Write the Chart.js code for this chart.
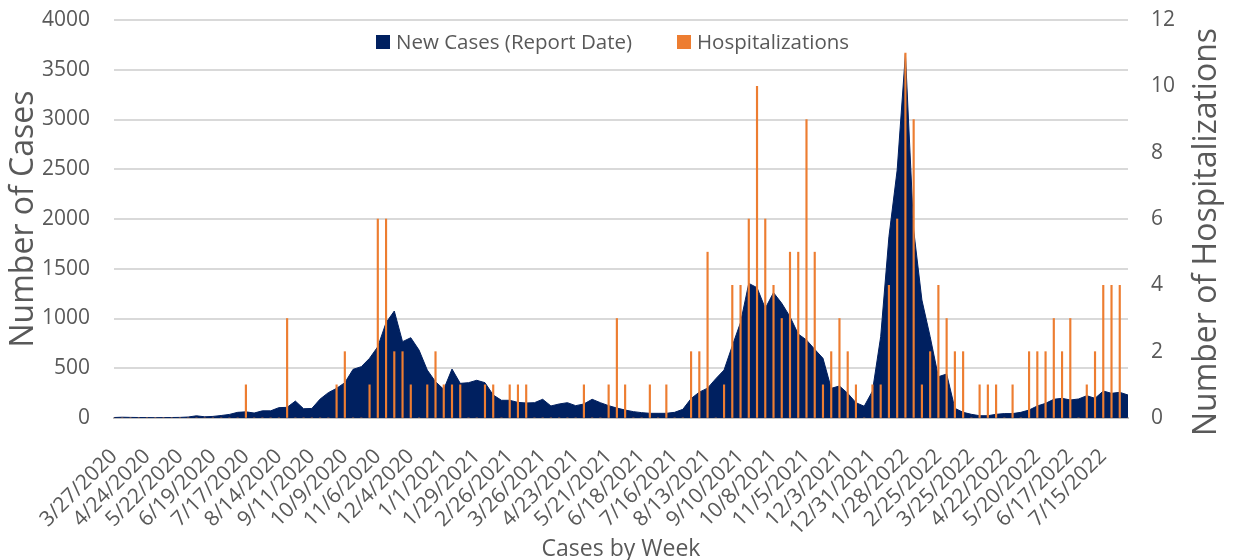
<!DOCTYPE html>
<html>
<head>
<meta charset="utf-8">
<script src="https://cdn.jsdelivr.net/npm/chart.js@4"></script>
<style>
  body { margin: 0; background: #fff; }
  canvas { display: block; }
</style>
</head>
<body>
<canvas id="chart" width="1233" height="560"></canvas>
<script>
// one category per report week, 3/27/2020 .. 8/5/2022
const weeks = [];
for (let i = 0; i < 124; i++) {
  const d = new Date(2020, 2, 27 + 7 * i);
  weeks.push((d.getMonth() + 1) + '/' + d.getDate() + '/' + d.getFullYear());
}

const newCases = [
  5, 8, 6, 5, 4, 3, 4, 5, 6, 10,
  22, 12, 16, 25, 36, 57, 62, 50, 72, 72,
  104, 107, 170, 93, 96, 190, 255, 298, 355, 489,
  516, 600, 717, 958, 1075, 767, 807, 683, 482, 365,
  288, 492, 348, 355, 379, 355, 231, 178, 178, 157,
  151, 154, 188, 121, 141, 154, 124, 141, 188, 154,
  124, 100, 80, 64, 54, 47, 47, 47, 57, 87,
  195, 260, 300, 395, 482, 725, 960, 1353, 1310, 1102,
  1260, 1153, 1018, 844, 784, 690, 600, 298, 322, 248,
  154, 118, 270, 817, 1822, 2492, 3658, 1889, 1186, 817,
  415, 442, 97, 57, 37, 23, 23, 37, 44, 44,
  57, 80, 121, 147, 188, 198, 181, 191, 224, 198,
  271, 248, 258, 231
];

const hospitalizations = [
  0, 0, 0, 0, 0, 0, 0, 0, 0, 0,
  0, 0, 0, 0, 0, 0, 1, 0, 0, 0,
  0, 3, 0, 0, 0, 0, 0, 1, 2, 0,
  0, 1, 6, 6, 2, 2, 1, 0, 1, 2,
  1, 1, 1, 0, 0, 1, 1, 0, 1, 1,
  1, 0, 0, 0, 0, 0, 0, 1, 0, 0,
  1, 3, 1, 0, 0, 1, 0, 1, 0, 0,
  2, 2, 5, 0, 1, 4, 4, 6, 10, 6,
  4, 3, 5, 5, 9, 5, 1, 2, 3, 2,
  1, 0, 1, 1, 4, 6, 11, 9, 1, 2,
  4, 3, 2, 2, 0, 1, 1, 1, 0, 1,
  0, 2, 2, 2, 3, 2, 3, 0, 1, 2,
  4, 4, 4, 0
];

const NAVY = '#002060';
const ORANGE = '#ED7D31';
const GREY_TEXT = '#595959';
const FONT = '"Open Sans", sans-serif';

// legend sits inside the plot, and the right title reads bottom-to-top like Excel
const extras = {
  id: 'extras',
  afterDraw(chart) {
    const ctx = chart.ctx;
    ctx.save();
    ctx.font = '20.5px ' + FONT;
    ctx.fillStyle = GREY_TEXT;
    ctx.textBaseline = 'middle';
    ctx.textAlign = 'left';
    const items = [
      { x: 376, color: NAVY, text: chart.data.datasets[1].label },
      { x: 677, color: ORANGE, text: chart.data.datasets[0].label }
    ];
    items.forEach(it => {
      ctx.fillStyle = it.color;
      ctx.fillRect(it.x, 35, 14, 14);
      ctx.fillStyle = GREY_TEXT;
      ctx.fillText(it.text, it.x + 20, 43);
    });

    ctx.translate(1207, 232);
    ctx.rotate(-Math.PI / 2);
    ctx.textAlign = 'center';
    ctx.font = '32px ' + FONT;
    ctx.fillText('Number of Hospitalizations', 0, 0);
    ctx.restore();
  }
};

new Chart(document.getElementById('chart'), {
  data: {
    labels: weeks,
    datasets: [
      {
        type: 'bar',
        label: 'Hospitalizations',
        data: hospitalizations,
        backgroundColor: ORANGE,
        barThickness: 1.5,
        yAxisID: 'y1',
        order: 1
      },
      {
        type: 'line',
        label: 'New Cases (Report Date)',
        data: newCases,
        borderColor: NAVY,
        backgroundColor: NAVY,
        borderWidth: 1,
        fill: 'origin',
        pointRadius: 0,
        tension: 0,
        yAxisID: 'y',
        order: 2
      }
    ]
  },
  options: {
    responsive: false,
    animation: false,
    devicePixelRatio: 1,
    layout: { padding: { top: 20, left: 0, right: 0, bottom: 0 } },
    plugins: {
      legend: { display: false },
      tooltip: { enabled: false }
    },
    scales: {
      x: {
        offset: false,
        grid: { display: false, drawTicks: false },
        border: { display: true, color: '#bfbfbf', width: 2 },
        ticks: {
          autoSkip: false,
          maxRotation: 45,
          minRotation: 45,
          padding: 26,
          color: GREY_TEXT,
          font: { family: FONT, size: 21 },
          callback: (v, i) => (i % 4 === 0 ? weeks[i] : '')
        },
        title: {
          display: true,
          text: 'Cases by Week',
          color: GREY_TEXT,
          font: { family: FONT, size: 23 },
          padding: { top: 0, bottom: -3 }
        },
        afterFit: s => { s.height = 142; }
      },
      y: {
        position: 'left',
        min: 0,
        max: 4000,
        ticks: {
          stepSize: 500,
          padding: 3,
          color: GREY_TEXT,
          font: { family: FONT, size: 21 },
          callback: v => String(v)
        },
        grid: { color: '#d9d9d9', lineWidth: 2, tickColor: 'transparent', tickLength: 21 },
        border: { display: false },
        title: {
          display: true,
          text: 'Number of Cases',
          color: GREY_TEXT,
          font: { family: FONT, size: 32 },
          padding: { top: 5, bottom: 0 }
        },
        afterFit: s => { s.width = 114; }
      },
      y1: {
        position: 'right',
        min: 0,
        max: 12,
        ticks: {
          stepSize: 2,
          padding: 3,
          color: GREY_TEXT,
          font: { family: FONT, size: 21 },
          callback: v => String(v)
        },
        grid: { drawOnChartArea: false, tickColor: 'transparent', tickLength: 20 },
        border: { display: false },
        afterFit: s => { s.width = 105; }
      }
    }
  },
  plugins: [extras]
});
</script>
</body>
</html>
